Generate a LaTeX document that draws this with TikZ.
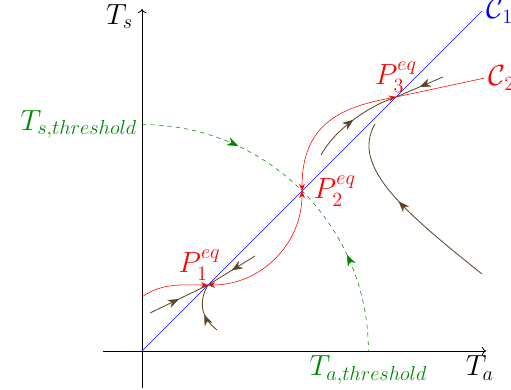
\documentclass[tikz,border=0pt]{standalone}
\usepackage{amsmath,amssymb}
\usetikzlibrary{arrows.meta,positioning,decorations.markings}
\definecolor{trajbrown}{RGB}{95,70,40}
\definecolor{thgreen}{RGB}{0,135,0}

\begin{document}
\begin{tikzpicture}[font=\huge,
  axisline/.style={->, semithick},
  diagline/.style={blue},
  eqcurve/.style={red},
  redtips/.style={{Stealth[length=5pt,width=4pt]}-{Stealth[length=5pt,width=4pt]}},
  trajline/.style={trajbrown, semithick, postaction={decorate},
    decoration={markings, mark=at position #1 with {\arrow{Stealth[length=8pt,width=6pt,inset=2.5pt]}}}},
  trajline/.default=0.5,
  threshold/.style={thgreen, dashed, postaction={decorate},
    decoration={markings,
      mark=at position 0.28 with {\arrow{Stealth[length=8pt,width=6pt,inset=2.5pt]}},
      mark=at position 0.72 with {\arrowreversed{Stealth[length=8pt,width=6pt,inset=2.5pt]}}}}]
\useasboundingbox (-3.55,-0.975) rectangle (9.225,8.775);

% axes
\coordinate (O) at (0,0);
\coordinate (xstart) at (-0.975,0);
\coordinate (xend) at (8.6,0);
\coordinate (ystart) at (0,-0.925);
\coordinate (yend) at (0,8.55);
\draw[axisline] (xstart) -- (xend);
\draw[axisline] (ystart) -- (yend);
\node[below left=0pt and -9pt of xend] (talabel) {$T_a$};
\node[below left=-7pt and 3pt of yend] (tslabel) {$T_s$};

% equilibrium points
\coordinate (P1) at (1.65,1.65);
\coordinate (P2) at (4,4);
\coordinate (P3) at (6.35,6.35);

% curve C1
\coordinate (c1end) at (8.5,8.5);
\draw[diagline] (O) -- (c1end);
\node[right=0pt of c1end, blue] (c1label) {$\mathcal{C}_1$};

% curve C2
\coordinate (c2start) at (0,1.35);
\coordinate (c2end) at (8.55,6.82);
\draw[eqcurve, -{Stealth[length=5pt,width=4pt]}] (c2start) .. controls (0.5,1.72) and (1.1,1.65) .. (P1);
\draw[eqcurve, redtips] (P1) .. controls (3.0,1.65) and (4,2.7) .. (P2);
\draw[eqcurve, redtips] (P2) .. controls (4,5.7) and (5.0,6.1) .. (P3);
\draw[eqcurve] (P3) -- (c2end);
\node[right=0pt of c2end, red] (c2label) {$\mathcal{C}_2$};

\node[above=0pt of P1, xshift=-6pt, red] (p1label) {$P_1^{eq}$};
\node[right=5pt of P2, red] (p2label) {$P_2^{eq}$};
\node[above=0pt of P3, red] (p3label) {$P_3^{eq}$};

% trajectories
\coordinate (t1) at (0.2,0.95);
\coordinate (t2) at (2.825,2.375);
\coordinate (t3) at (1.875,0.525);
\coordinate (t4) at (4.475,4.9);
\coordinate (t5) at (7.525,6.85);
\coordinate (t6a) at (8.5,1.925);
\coordinate (t6b) at (5.825,5.675);
\draw[trajline] (t1) -- (P1);
\draw[trajline] (t2) -- (P1);
\draw[trajline=0.4] (t3) .. controls (1.4,0.9) and (1.45,1.3) .. (P1);
\draw[trajline] (t4) .. controls (4.8,5.5) and (5.6,6.1) .. (P3);
\draw[trajline] (t5) -- (P3);
\draw[trajline=0.56] (t6a) .. controls (6.6,3.45) and (5.2,4.6) .. (t6b);

% threshold
\coordinate (tsth) at (0,5.66);
\coordinate (tath) at (5.66,0);
\draw[threshold] (tsth) arc[start angle=90, end angle=0, radius=5.66];
\node[left=0pt of tsth, thgreen] (tsthlabel) {$T_{s,threshold}$};
\node[below=0pt of tath, thgreen] (tathlabel) {$T_{a,threshold}$};
\end{tikzpicture}
\end{document}
